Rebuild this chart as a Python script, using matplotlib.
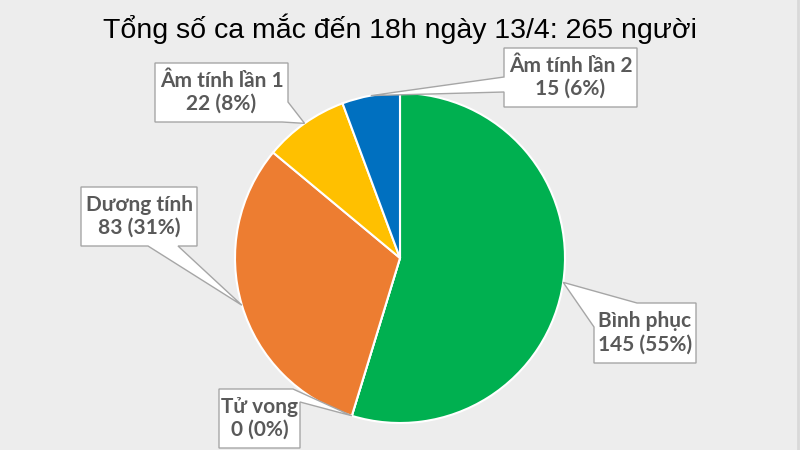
import numpy as np
import matplotlib
matplotlib.use("Agg")
import matplotlib.pyplot as plt
from matplotlib.patches import Polygon

title = "Tổng số ca mắc đến 18h ngày 13/4: 265 người"
labels = ["Bình phục", "Tử vong", "Dương tính", "Âm tính lần 1", "Âm tính lần 2"]
values = [145, 0, 83, 22, 15]
colors = ["#00B050", "#A5A5A5", "#ED7D31", "#FFC000", "#0070C0"]

W, H = 800, 450
bg = "#EDEDED"

# callout boxes in pixel coords (x0, y0, x1, y1), y down, plus two base points of the pointer
boxes = [
    ((594, 303, 696, 363), (637, 303), (594, 327)),
    ((219, 389, 300, 448), (293, 389), (300, 402)),
    ((81, 187, 197, 246), (148, 246), (178, 246)),
    ((155, 63, 288, 122), (282, 122), (288, 102)),
    ((504, 48, 637, 107), (504, 77), (504, 92)),
]

cx, cy, r = 400, 258, 165


def to_data(p):
    return (p[0], H - p[1])


def callout_pts(box, tip, pa, pb):
    x0, y0, x1, y1 = box
    w, h = x1 - x0, y1 - y0
    P = 2 * w + 2 * h
    corners = [(0, (x0, y0)), (w, (x1, y0)), (w + h, (x1, y1)), (2 * w + h, (x0, y1))]

    def s(p):
        x, y = p
        if y == y0:
            return x - x0
        if x == x1:
            return w + y - y0
        if y == y1:
            return w + h + x1 - x
        return 2 * w + h + y1 - y

    sa, sb = s(pa), s(pb)
    if (sb - sa) % P > P / 2:
        pa, pb, sa, sb = pb, pa, sb, sa
    L = (sa - sb) % P
    pts = [pb]
    for cs, c in sorted(corners, key=lambda t: (t[0] - sb) % P):
        if 0 < (cs - sb) % P < L:
            pts.append(c)
    pts += [pa, tip]
    return [to_data(p) for p in pts]


fig = plt.figure(figsize=(8, 4.5), dpi=100, facecolor=bg)
ax = fig.add_axes([0, 0, 1, 1])
ax.set_facecolor(bg)

wedges, _ = ax.pie(values, colors=colors, startangle=90, counterclock=False,
                   center=(cx, H - cy), radius=r,
                   wedgeprops=dict(edgecolor="white", linewidth=1.5))
ax.set_xlim(0, W)
ax.set_ylim(0, H)
ax.set_aspect("equal")
ax.axis("off")

total = sum(values)
for wdg, lab, v, (box, pa, pb) in zip(wedges, labels, values, boxes):
    mid = np.deg2rad((wdg.theta1 + wdg.theta2) / 2)
    tip = (cx + r * np.cos(mid), cy - r * np.sin(mid))
    poly = Polygon(callout_pts(box, tip, pa, pb), closed=True, facecolor="white",
                   edgecolor="#A6A6A6", linewidth=1, zorder=5)
    ax.add_patch(poly)
    x0, y0, x1, y1 = box
    pct = round(v / total * 100)
    ax.text((x0 + x1) / 2, H - (y0 + y1) / 2, f"{lab}\n{v} ({pct}%)",
            ha="center", va="center", fontsize=15, fontweight="bold",
            color="#595959", family=["Lato", "DejaVu Sans"], linespacing=1.2, zorder=6)

ax.text(W / 2, H - 29, title, ha="center", va="center", fontsize=20.5,
        color="black", family=["Liberation Sans", "DejaVu Sans"])
ax.plot([W - 2, W - 2], [0, H], color="#D9D9D9", linewidth=2)

fig.savefig("out.png", dpi=100, facecolor=bg)
